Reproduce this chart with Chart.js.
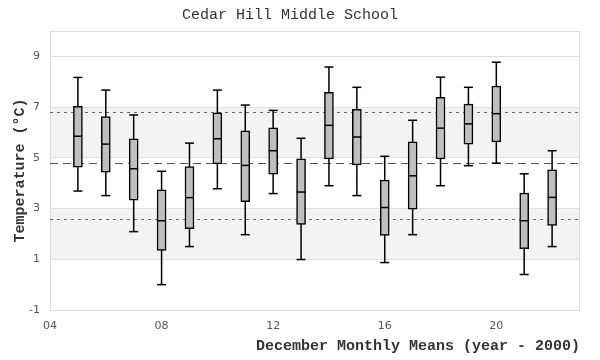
<!DOCTYPE html>
<html>
<head>
<meta charset="utf-8">
<title>Cedar Hill Middle School</title>
<script src="https://cdn.jsdelivr.net/npm/chart.js@4.4.1/dist/chart.umd.min.js"></script>
<style>
  body { margin: 0; background: #fff; }
  canvas { display: block; }
</style>
</head>
<body>
<canvas id="boxChart" width="600" height="360"></canvas>
<script>
// December monthly means, year - 2000
const years       = [5, 6, 7, 8, 9, 10, 11, 12, 13, 14, 15, 16, 17, 18, 19, 20, 21, 22];
const whiskerLow  = [3.69, 3.51, 2.09, 0.00, 1.50, 3.78, 1.97, 3.59, 0.99, 3.90, 3.51, 0.87, 1.97, 3.90, 4.69, 4.79, 0.40, 1.50];
const q1          = [4.63, 4.43, 3.33, 1.35, 2.21, 4.76, 3.27, 4.36, 2.37, 4.96, 4.72, 1.94, 2.98, 4.96, 5.54, 5.63, 1.42, 2.33];
const medians     = [5.85, 5.54, 4.57, 2.52, 3.43, 5.75, 4.70, 5.28, 3.65, 6.28, 5.82, 3.04, 4.29, 6.17, 6.34, 6.74, 2.52, 3.44];
const q3          = [7.03, 6.63, 5.75, 3.74, 4.65, 6.77, 6.06, 6.18, 4.96, 7.58, 6.91, 4.12, 5.63, 7.38, 7.12, 7.83, 3.61, 4.53];
const whiskerHigh = [8.17, 7.67, 6.69, 4.47, 5.58, 7.67, 7.08, 6.87, 5.77, 8.58, 7.78, 5.06, 6.48, 8.18, 7.78, 8.77, 4.37, 5.28];

const xTicks = [4, 8, 12, 16, 20];
const yTicks = [-1, 1, 3, 5, 7, 9];
const bands = [[1, 3], [5, 7]];          // shaded ranges
const meanLine = 4.8;                     // dashed
const sdLines = [6.8, 2.6];               // dotted

// sólo para dibujar: fondo, líneas de referencia y marco
const decorPlugin = {
    id: 'decor',
    beforeDraw(chart) {
        const { ctx, chartArea: a, scales: { y } } = chart;
        ctx.save();
        ctx.fillStyle = '#f3f3f3';
        bands.forEach(([lo, hi]) => {
            const top = y.getPixelForValue(hi);
            const bottom = y.getPixelForValue(lo);
            ctx.fillRect(a.left, top, a.right - a.left, bottom - top);
        });
        ctx.restore();
    },
    beforeDatasetsDraw(chart) {
        const { ctx, chartArea: a, scales: { y } } = chart;
        ctx.save();
        ctx.lineWidth = 1;
        // marco
        ctx.strokeStyle = '#dcdcdc';
        ctx.strokeRect(a.left + 0.5, a.top + 0.5, a.right - a.left - 1, a.bottom - a.top);
        // media
        ctx.strokeStyle = '#555';
        ctx.setLineDash([8, 5]);
        let py = Math.round(y.getPixelForValue(meanLine)) + 0.5;
        ctx.beginPath(); ctx.moveTo(a.left, py); ctx.lineTo(a.right, py); ctx.stroke();
        // desviaciones
        ctx.strokeStyle = '#666';
        ctx.setLineDash([3, 4]);
        sdLines.forEach(v => {
            py = Math.round(y.getPixelForValue(v)) + 0.5;
            ctx.beginPath(); ctx.moveTo(a.left, py); ctx.lineTo(a.right, py); ctx.stroke();
        });
        ctx.restore();
    }
};

// bigotes: línea de min a max, cortada entre años
const whiskerData = [];
years.forEach((yr, i) => {
    whiskerData.push({ x: yr, y: whiskerLow[i] });
    whiskerData.push({ x: yr, y: whiskerHigh[i] });
    whiskerData.push({ x: yr, y: null });
});
const capData = years.flatMap((yr, i) => [{ x: yr, y: whiskerLow[i] }, { x: yr, y: whiskerHigh[i] }]);

const ctx = document.getElementById('boxChart').getContext('2d');
new Chart(ctx, {
    type: 'bar',
    data: {
        datasets: [
            {
                type: 'line',
                data: whiskerData,
                borderColor: '#000',
                borderWidth: 1.5,
                pointRadius: 0,
                spanGaps: false,
                order: 3
            },
            {
                type: 'bar',
                data: years.map((yr, i) => ({ x: yr, y: [q1[i], q3[i]] })),
                backgroundColor: '#bfbfbf',
                borderColor: '#000',
                borderWidth: 1.5,
                borderSkipped: false,
                barThickness: 9,
                order: 2
            },
            {
                type: 'scatter',
                data: capData,
                pointStyle: 'line',
                pointRadius: 4.5,
                pointHoverRadius: 4.5,
                pointBorderColor: '#000',
                pointBorderWidth: 1.5,
                order: 1
            },
            {
                type: 'scatter',
                data: years.map((yr, i) => ({ x: yr, y: medians[i] })),
                pointStyle: 'line',
                pointRadius: 4.5,
                pointHoverRadius: 4.5,
                pointBorderColor: '#000',
                pointBorderWidth: 1.5,
                order: 0
            }
        ]
    },
    options: {
        responsive: false,
        animation: false,
        events: [],
        layout: { padding: { top: 0, right: 20, left: 0, bottom: 0 } },
        scales: {
            x: {
                type: 'linear',
                min: 4,
                max: 23,
                offset: false,
                grid: { display: false, offset: false },
                border: { display: false },
                afterBuildTicks: axis => { axis.ticks = xTicks.map(v => ({ value: v })); },
                afterFit: axis => { axis.height = 50; },
                ticks: {
                    color: '#555',
                    padding: 2,
                    maxRotation: 0,
                    font: { family: 'DejaVu Sans', size: 11 },
                    callback: v => String(v).padStart(2, '0')
                },
                title: {
                    display: true,
                    text: 'December Monthly Means (year - 2000)',
                    align: 'end',
                    color: '#333',
                    padding: { top: 0, bottom: 5 },
                    font: { family: 'Liberation Mono', size: 15, weight: 'bold' }
                }
            },
            y: {
                min: -1,
                max: 10,
                grid: { color: '#e0e0e0', drawTicks: false },
                border: { display: false },
                afterBuildTicks: axis => { axis.ticks = yTicks.map(v => ({ value: v })); },
                afterFit: axis => { axis.width = 50; },
                ticks: {
                    color: '#555',
                    padding: 10,
                    font: { family: 'DejaVu Sans', size: 11 }
                },
                title: {
                    display: true,
                    text: 'Temperature (°C)',
                    color: '#333',
                    padding: { top: 11, bottom: 0 },
                    font: { family: 'Liberation Mono', size: 15, weight: 'bold' }
                }
            }
        },
        plugins: {
            legend: { display: false },
            tooltip: { enabled: false },
            title: {
                display: true,
                text: 'Cedar Hill Middle School',
                color: '#333',
                padding: { top: 6, bottom: 7 },
                font: { family: 'Liberation Mono', size: 15, weight: 'normal' }
            }
        }
    },
    plugins: [decorPlugin]
});
</script>
</body>
</html>
